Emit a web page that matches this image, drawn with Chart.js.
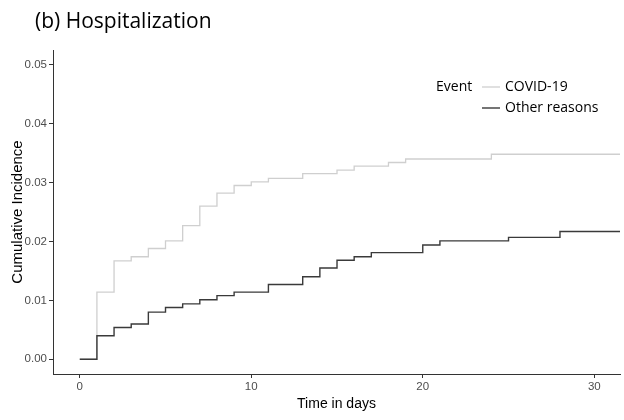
<!DOCTYPE html>
<html><head><meta charset="utf-8">
<script src="https://cdn.jsdelivr.net/npm/chart.js@4.4.0/dist/chart.umd.min.js"></script>
<style>html,body{margin:0;padding:0;background:#fff;}#wrap{width:624px;height:420px;}</style>
</head><body><div id="wrap"><canvas id="c" width="624" height="420"></canvas></div>
<script>
const chartTitle = "(b) Hospitalization";
const legendTitle = "Event";
const seriesNames = ["COVID-19", "Other reasons"];
const covidDays = [0, 1, 2, 3, 4, 5, 6, 7, 8, 9, 10, 11, 13, 15, 16, 18, 19, 24, 31.6];
const covidValues = [0, 0.0114, 0.0167, 0.0174, 0.0188, 0.0201, 0.0227, 0.0260, 0.0282, 0.0295, 0.0301, 0.0307, 0.0315, 0.0321, 0.0328, 0.0334, 0.0340, 0.0348, 0.0348];
const otherDays = [0, 1, 2, 3, 4, 5, 6, 7, 8, 9, 11, 13, 14, 15, 16, 17, 20, 21, 25, 28, 31.6];
const otherValues = [0, 0.0040, 0.0054, 0.0060, 0.0080, 0.0088, 0.0094, 0.0101, 0.0108, 0.0114, 0.0127, 0.0140, 0.0155, 0.0168, 0.0174, 0.0181, 0.0194, 0.0201, 0.0207, 0.0217, 0.0217];
const xTicks = [0, 10, 20, 30];
const yTicks = [0, 0.01, 0.02, 0.03, 0.04, 0.05];
const xTitle = "Time in days";
const yTitle = "Cumulative Incidence";

const toPts = (xs, ys) => xs.map((x, i) => ({x: x, y: ys[i]}));
const narrow = "'Liberation Sans Narrow', 'Liberation Sans', Arial, sans-serif";
const tickFont = {family: narrow, size: 11.5};

const annot = {
  id: 'annot',
  afterDraw(chart) {
    const ctx = chart.ctx;
    ctx.save();
    ctx.fillStyle = '#000';
    ctx.textAlign = 'left';
    ctx.textBaseline = 'alphabetic';
    ctx.font = "21px 'Open Sans', 'Noto Sans', sans-serif";
    ctx.fillText(chartTitle, 35, 28);
    ctx.font = "14px 'Open Sans', 'Noto Sans', sans-serif";
    ctx.textBaseline = 'middle';
    ctx.fillText(legendTitle, 436, 87);
    const rows = [87, 108];
    chart.data.datasets.forEach((d, i) => {
      ctx.strokeStyle = d.borderColor;
      ctx.lineWidth = d.borderWidth;
      ctx.beginPath();
      ctx.moveTo(482, rows[i]);
      ctx.lineTo(500, rows[i]);
      ctx.stroke();
      ctx.fillText(d.label, 505, rows[i]);
    });
    ctx.restore();
  }
};

new Chart(document.getElementById('c'), {
  type: 'line',
  data: {
    datasets: [
      {label: seriesNames[0], data: toPts(covidDays, covidValues), borderColor: '#cfcfcf', borderWidth: 1.3, stepped: 'before', pointRadius: 0, fill: false, order: 1},
      {label: seriesNames[1], data: toPts(otherDays, otherValues), borderColor: '#3a3a3a', borderWidth: 1.4, stepped: 'before', pointRadius: 0, fill: false, order: 0}
    ]
  },
  options: {
    responsive: false,
    animation: false,
    devicePixelRatio: 1,
    layout: {padding: {top: 50, right: 4, left: 0, bottom: 0}},
    plugins: {legend: {display: false}, title: {display: false}, tooltip: {enabled: false}},
    scales: {
      x: {
        type: 'linear', min: -1.56, max: 31.5,
        afterBuildTicks: s => { s.ticks = xTicks.map(v => ({value: v})); },
        afterFit: s => { s.height = 46; },
        grid: {display: true, drawOnChartArea: false, drawTicks: true, tickLength: 4, color: '#333', lineWidth: 1},
        border: {display: true, color: '#333', width: 1},
        ticks: {font: tickFont, color: '#4d4d4d', padding: 2, maxRotation: 0, autoSkip: false, callback: v => String(v)},
        title: {display: true, text: xTitle, color: '#000', font: {family: narrow, size: 14}, padding: {top: 0, bottom: 7}}
      },
      y: {
        type: 'linear', min: -0.0025, max: 0.0525,
        afterBuildTicks: s => { s.ticks = yTicks.map(v => ({value: v})); },
        afterFit: s => { s.width = 53; },
        grid: {display: true, drawOnChartArea: false, drawTicks: true, tickLength: 4, color: '#333', lineWidth: 1},
        border: {display: true, color: '#333', width: 1},
        ticks: {font: tickFont, color: '#4d4d4d', padding: 2, autoSkip: false, callback: v => Number(v).toFixed(2)},
        title: {display: true, text: yTitle, color: '#000', font: {family: "'Liberation Sans', Arial, sans-serif", size: 15}, padding: {top: 9, bottom: 0}}
      }
    }
  },
  plugins: [annot]
});
</script>
</body></html>
